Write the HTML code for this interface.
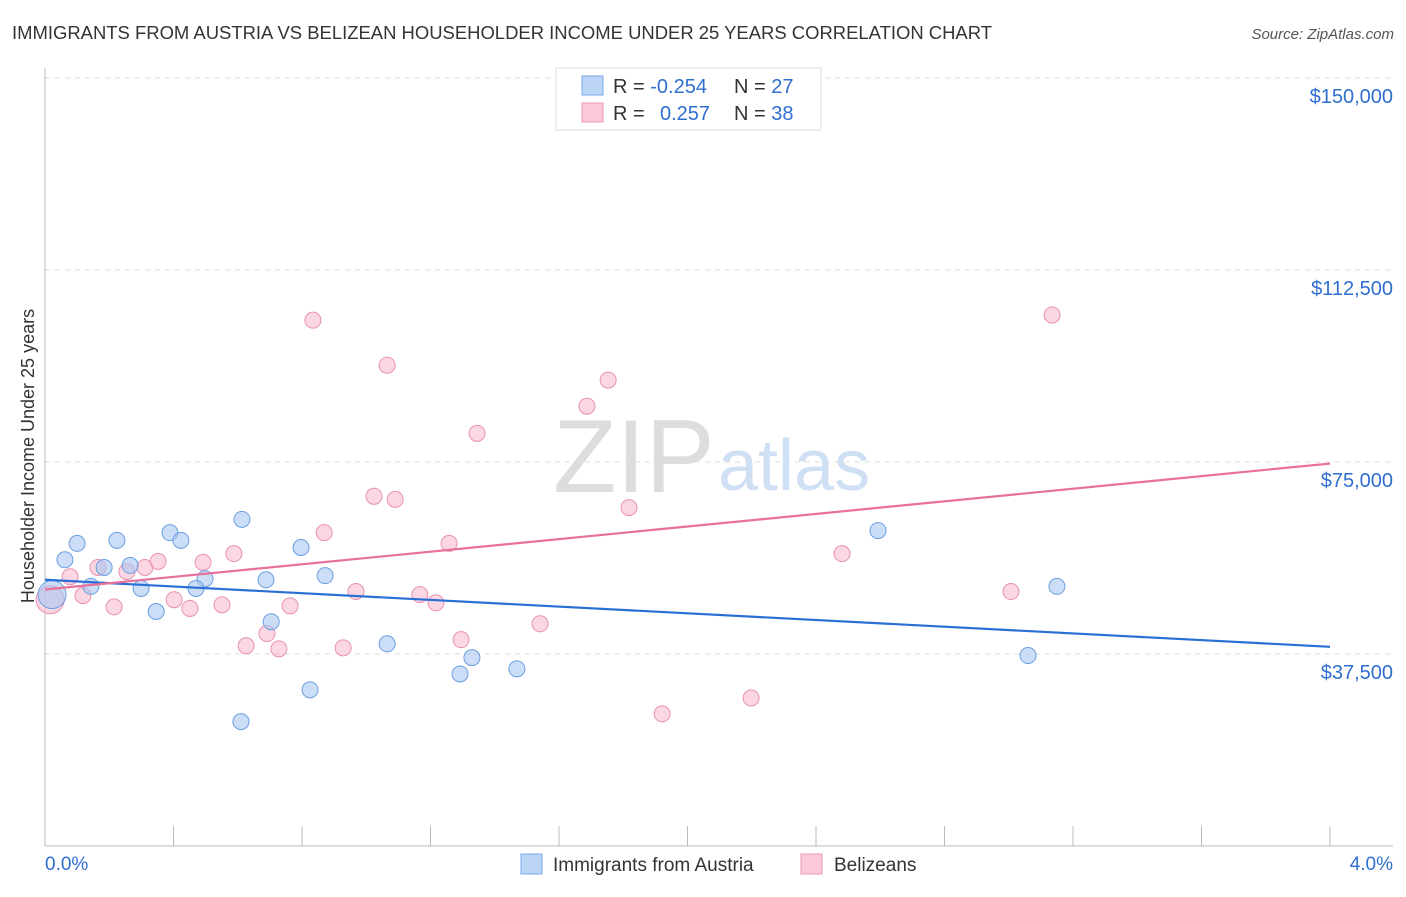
<!DOCTYPE html>
<html><head><meta charset="utf-8"><style>
body{margin:0;background:#fff;font-family:"Liberation Sans",sans-serif;}
svg text{font-family:"Liberation Sans",sans-serif;}
</style></head><body>
<svg id="chart" width="1406" height="892" viewBox="0 0 1406 892">
<text x="12" y="39" font-size="18" fill="#333" textLength="980" lengthAdjust="spacingAndGlyphs">IMMIGRANTS FROM AUSTRIA VS BELIZEAN HOUSEHOLDER INCOME UNDER 25 YEARS CORRELATION CHART</text>
<text x="1394" y="39" font-size="15" fill="#555" font-style="italic" text-anchor="end">Source: ZipAtlas.com</text>
<g id="grid"></g>
<g><text x="553" y="492" font-size="104" fill="#ddd" font-family="Liberation Serif">ZIP</text><text x="718" y="490" font-size="72" fill="#cfe0f4">atlas</text></g>
<g id="lines"></g>
<g id="points"></g>
<text transform="translate(34,456) rotate(-90)" font-size="18" fill="#333" text-anchor="middle">Householder Income Under 25 years</text>
<g>
<rect x="556" y="68" width="265" height="62" fill="#fff" stroke="#ddd"/>
<rect x="582" y="76" width="21" height="19" fill="#bcd5f7" stroke="#7aa8e8"/>
<rect x="582" y="103" width="21" height="19" fill="#fac8d8" stroke="#ee99b7"/>
<text x="613" y="93" font-size="20" fill="#333">R = <tspan fill="#2f6fd0">-0.254</tspan></text>
<text x="734" y="93" font-size="20" fill="#333">N = <tspan fill="#2f6fd0">27</tspan></text>
<text x="613" y="120" font-size="20" fill="#333">R = <tspan fill="#2f6fd0" x="660">0.257</tspan></text>
<text x="734" y="120" font-size="20" fill="#333">N = <tspan fill="#2f6fd0">38</tspan></text>
</g>
<g>
<rect x="521" y="854" width="21" height="20" fill="#bcd5f7" stroke="#7aa8e8"/>
<text x="553" y="871" font-size="19" fill="#333">Immigrants from Austria</text>
<rect x="801" y="854" width="21" height="20" fill="#fac8d8" stroke="#ee99b7"/>
<text x="834" y="871" font-size="19" fill="#333">Belizeans</text>
</g>
</svg>
<script>
const yTicks=[37500,75000,112500,150000];
const yTickLabels=["$37,500","$75,000","$112,500","$150,000"];
const xTicks=[0,0.4,0.8,1.2,1.6,2.0,2.4,2.8,3.2,3.6,4.0];
const xLabels=["0.0%","4.0%"];
const austriaX=[0.022,0.062,0.100,0.143,0.224,0.265,0.184,0.299,0.346,0.389,0.423,0.498,0.470,0.613,0.688,0.704,0.797,0.825,0.872,0.610,1.065,1.292,1.329,1.469,2.593,3.060,3.150];
const austriaY=[49100,55900,59100,50700,59700,54800,54400,50300,45800,61200,59700,52200,50300,63800,52000,43800,58300,30500,52800,24300,39500,33600,36800,34600,61600,37200,50700];
const belizeX=[0.016,0.078,0.118,0.165,0.215,0.255,0.311,0.352,0.402,0.451,0.492,0.551,0.588,0.626,0.691,0.728,0.763,0.834,0.869,0.928,0.968,1.024,1.065,1.090,1.167,1.217,1.258,1.295,1.345,1.541,1.687,1.753,1.818,1.921,2.198,2.481,3.007,3.135];
const belizeY=[48100,52600,48900,54400,46700,53600,54400,55600,48100,46400,55400,47100,57100,39100,41500,38500,46900,102700,61200,38700,49700,68300,93900,67700,49100,47500,59100,40300,80600,43400,85900,91000,66100,25800,28900,57100,49700,103700];
const austriaTrend=[52000,38900];
const belizeTrend=[50100,74700];
const trendX=[0,4.0];

const NS="http://www.w3.org/2000/svg";
const xs=v=>45+v/4*1285;
const ys=v=>846-v/37500*192;
function mk(tag,attrs,parent){const e=document.createElementNS(NS,tag);for(const k in attrs)e.setAttribute(k,attrs[k]);parent.appendChild(e);return e;}
const svg=document.getElementById('chart');
const grid=document.getElementById('grid');
yTicks.forEach((t,i)=>{
  const l=mk('line',{x1:45,x2:1393,y1:ys(t),y2:ys(t),stroke:'#ddd','stroke-dasharray':'5,5'},grid);
  
  
  const tx=mk('text',{x:1393,y:ys(t)+25,'font-size':20,fill:'#2f6fd0','text-anchor':'end'},grid);
  tx.textContent=yTickLabels[i];
  
  
});
const ax=mk('line',{x1:45,x2:45,y1:68,y2:846,stroke:'#bbb'},grid);


const bx=mk('line',{x1:45,x2:1393,y1:846,y2:846,stroke:'#bbb'},grid);


xTicks.forEach(t=>{
  const l=mk('line',{x1:xs(t),x2:xs(t),y1:826,y2:846,stroke:'#bbb'},grid);
  
  
});
[[0,45,'start'],[4,1393,'end']].forEach((d,i)=>{
  const tx=mk('text',{x:d[1],y:870,'font-size':19,fill:'#2f6fd0','text-anchor':d[2]},grid);
  tx.textContent=xLabels[i];
  
  
});
const pts=document.getElementById('points');
function series(X,Y,fill,stroke,name){
  X.forEach((x,i)=>{
    const c=mk('circle',{cx:xs(x),cy:ys(Y[i]),r:i===0?14:8,fill:fill,'fill-opacity':0.6,stroke:stroke,'stroke-width':1},pts);
    
    
  });
}
series(belizeX,belizeY,'#f8bbd0','#e891b0','point-belizeans');
series(austriaX,austriaY,'#a9c7f2','#6a9fe0','point-austria');
const la=mk('line',{x1:xs(trendX[0]),y1:ys(austriaTrend[0]),x2:xs(trendX[1]),y2:ys(austriaTrend[1]),stroke:'#2a6fd6','stroke-width':2.2},svg);


const lb=mk('line',{x1:xs(trendX[0]),y1:ys(belizeTrend[0]),x2:xs(trendX[1]),y2:ys(belizeTrend[1]),stroke:'#e8709a','stroke-width':2.2},svg);


</script>
</body></html>
